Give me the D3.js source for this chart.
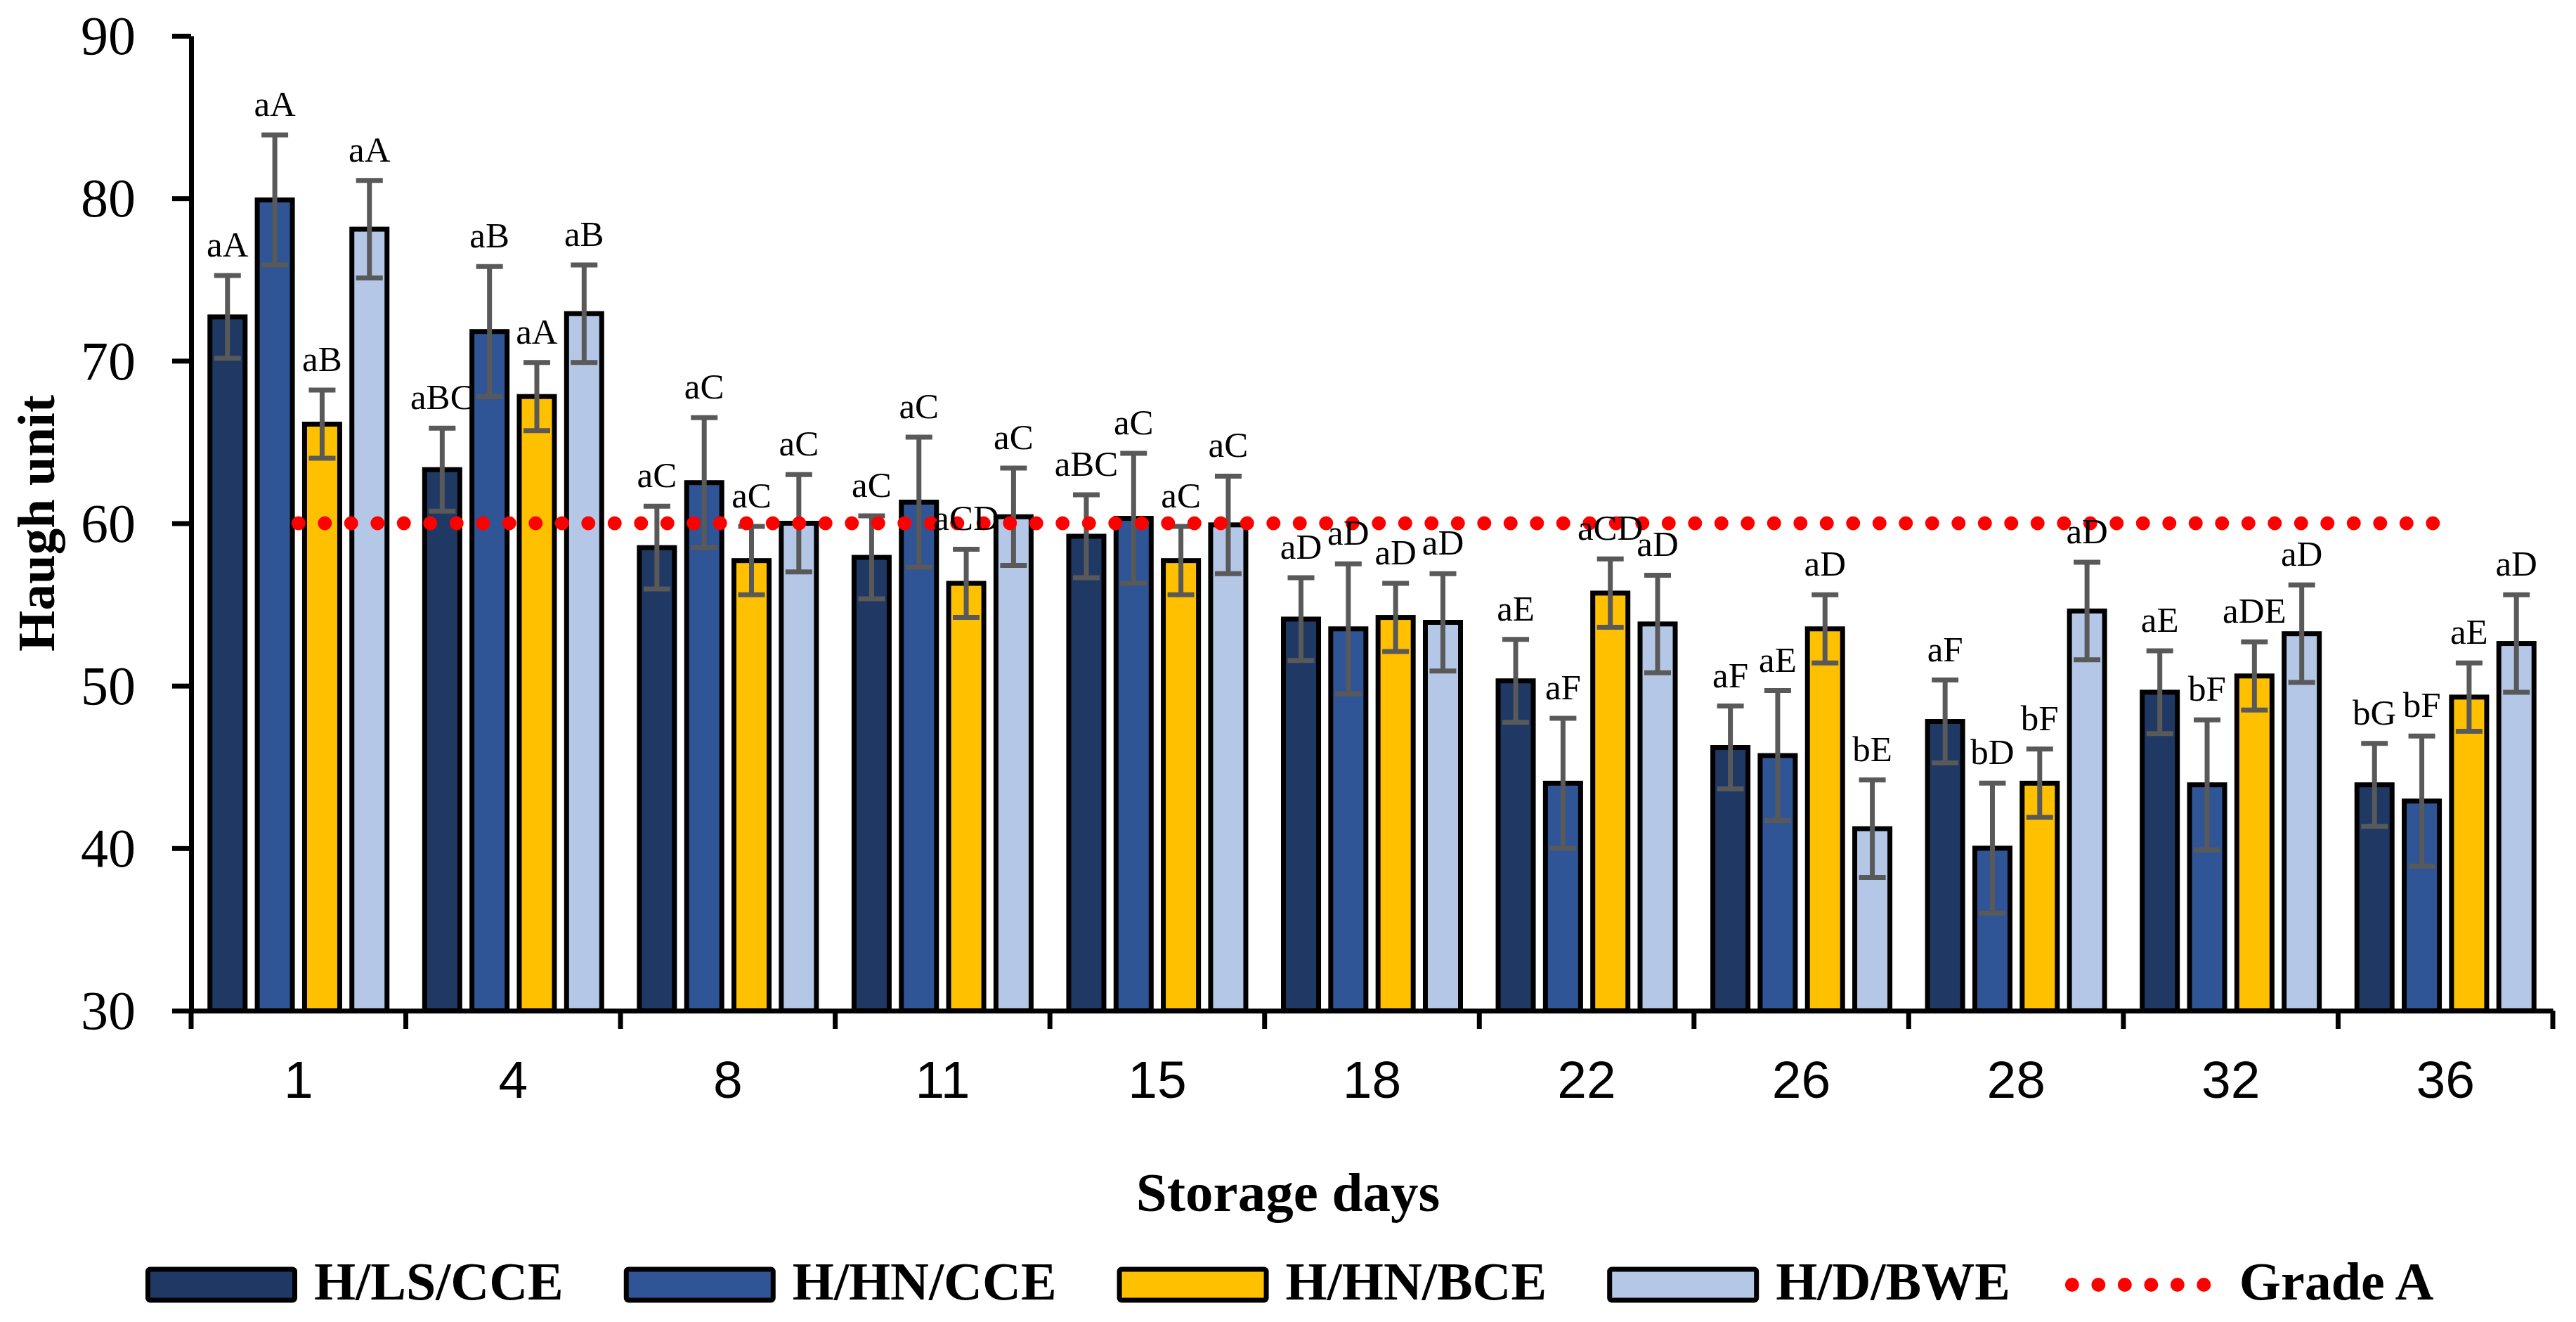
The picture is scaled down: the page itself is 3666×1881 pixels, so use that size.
<!DOCTYPE html>
<html><head><meta charset="utf-8">
<script src="https://cdn.jsdelivr.net/npm/d3@7"></script>
<style>html,body{margin:0;padding:0;background:#fff;} svg{display:block;}</style>
</head><body>
<svg id="chart" width="3666" height="1881"></svg>
<script>
// ---- data ----
const days = ["1","4","8","11","15","18","22","26","28","32","36"];
const seriesNames = ["H/LS/CCE","H/HN/CCE","H/HN/BCE","H/D/BWE"];
const seriesColors = ["#203864","#2F5597","#FFC000","#B4C7E7"];
const hlsCce  = [72.7, 63.3, 58.5, 57.9, 59.2, 54.1, 50.3, 46.2, 47.8, 49.6, 43.9];
const hhnCce  = [79.9, 71.8, 62.5, 61.3, 60.3, 53.5, 44.0, 45.7, 40.0, 43.9, 42.9];
const hhnBce  = [66.1, 67.8, 57.7, 56.3, 57.7, 54.2, 55.7, 53.5, 44.0, 50.6, 49.3];
const hdBwe   = [78.1, 72.9, 60.0, 60.4, 59.9, 53.9, 53.8, 41.2, 54.6, 53.2, 52.6];
const errHlsCce = [2.55, 2.55, 2.55, 2.55, 2.55, 2.55, 2.55, 2.55, 2.55, 2.55, 2.55];
const errHhnCce = [4.0, 4.0, 4.0, 4.0, 4.0, 4.0, 4.0, 4.0, 4.0, 4.0, 4.0];
const errHhnBce = [2.1, 2.1, 2.1, 2.1, 2.1, 2.1, 2.1, 2.1, 2.1, 2.1, 2.1];
const errHdBwe  = [3.0, 3.0, 3.0, 3.0, 3.0, 3.0, 3.0, 3.0, 3.0, 3.0, 3.0];
const lblHlsCce = ["aA","aBC","aC","aC","aBC","aD","aE","aF","aF","aE","bG"];
const lblHhnCce = ["aA","aB","aC","aC","aC","aD","aF","aE","bD","bF","bF"];
const lblHhnBce = ["aB","aA","aC","aCD","aC","aD","aCD","aD","bF","aDE","aE"];
const lblHdBwe  = ["aA","aB","aC","aC","aC","aD","aD","bE","aD","aD","aD"];
const yTicks = [30, 40, 50, 60, 70, 80, 90];
const gradeA = 60;
const gradeLabel = "Grade A";
const xTitle = "Storage days";
const yTitle = "Haugh unit";

const values = [hlsCce, hhnCce, hhnBce, hdBwe];
const errs = [errHlsCce, errHhnCce, errHhnBce, errHdBwe];
const lbls = [lblHlsCce, lblHhnCce, lblHhnBce, lblHdBwe];

// ---- layout ----
const svg = d3.select("#chart");
const SERIF = "'Liberation Serif','Times New Roman',serif";
const SANS = "'Liberation Sans',Arial,sans-serif";
const pLeft = 272, pRight = 3633, pTop = 51, pBottom = 1438;

const x = d3.scaleBand().domain(days).range([pLeft, pRight]).padding(0);
const bw = x.bandwidth();
const innerW = 259;
const xi = d3.scaleBand().domain(seriesNames)
  .range([(bw - innerW) / 2, (bw + innerW) / 2]).paddingInner(0.153).paddingOuter(0);
const y = d3.scaleLinear().domain([30, 90]).range([pBottom, pTop]);

const rows = [];
days.forEach((d, i) => seriesNames.forEach((s, j) => {
  rows.push({day: d, s, j, v: values[j][i], e: errs[j][i], l: lbls[j][i]});
}));

// bars
const SW = 7;
svg.append("g").selectAll("rect").data(rows).join("rect")
  .attr("x", r => x(r.day) + xi(r.s) + SW / 2)
  .attr("width", xi.bandwidth() - SW)
  .attr("y", r => y(r.v))
  .attr("height", r => y(30) - y(r.v))
  .attr("fill", r => seriesColors[r.j])
  .attr("stroke", "#000").attr("stroke-width", SW);

// error bars
const eg = svg.append("g").attr("stroke", "#595959").attr("stroke-width", 7);
const cx = r => x(r.day) + xi(r.s) + xi.bandwidth() / 2;
eg.selectAll("line.v").data(rows).join("line").attr("class", "v")
  .attr("x1", cx).attr("x2", cx)
  .attr("y1", r => y(r.v + r.e)).attr("y2", r => y(r.v - r.e));
eg.selectAll("line.t").data(rows).join("line").attr("class", "t")
  .attr("x1", r => cx(r) - 19).attr("x2", r => cx(r) + 19)
  .attr("y1", r => y(r.v + r.e)).attr("y2", r => y(r.v + r.e));
eg.selectAll("line.b").data(rows).join("line").attr("class", "b")
  .attr("x1", r => cx(r) - 19).attr("x2", r => cx(r) + 19)
  .attr("y1", r => y(r.v - r.e)).attr("y2", r => y(r.v - r.e));

// grade A dotted line
svg.append("line")
  .attr("x1", x(days[0]) + bw / 2).attr("x2", x(days[days.length - 1]) + bw / 2)
  .attr("y1", y(gradeA)).attr("y2", y(gradeA))
  .attr("stroke", "#FF0000").attr("stroke-width", 20)
  .attr("stroke-dasharray", "0 37.5").attr("stroke-linecap", "round");

// bar labels
svg.append("g").selectAll("text").data(rows).join("text")
  .attr("x", cx).attr("y", r => y(r.v + r.e) - 27)
  .attr("text-anchor", "middle")
  .style("font-family", SERIF).style("font-size", "51px").attr("fill", "#000")
  .text(r => r.l);

// y axis
const ya = svg.append("g").attr("transform", `translate(${pLeft},0)`)
  .call(d3.axisLeft(y).tickValues(yTicks).tickSize(27).tickSizeOuter(0).tickPadding(52).tickFormat(d3.format("d")));
ya.select(".domain").attr("stroke", "#000").attr("stroke-width", 7);
ya.selectAll(".tick line").attr("stroke", "#000").attr("stroke-width", 7);
ya.selectAll(".tick text").style("font-family", SERIF).style("font-size", "78px").attr("fill", "#000").attr("dy", "0.33em");

// x axis
const xa = svg.append("g").attr("transform", `translate(0,${pBottom})`)
  .call(d3.axisBottom(x).tickSize(0).tickSizeOuter(0).tickPadding(0));
xa.select(".domain").attr("stroke", "#000").attr("stroke-width", 7);
xa.selectAll(".tick text").style("font-family", SANS).style("font-size", "75px").attr("fill", "#000")
  .attr("y", 124).attr("dy", 0);
const bounds = days.map(d => x(d)).concat([x.range()[1]]);
xa.selectAll("line.bound").data(bounds).join("line").attr("class", "bound")
  .attr("x1", d => d).attr("x2", d => d).attr("y1", 0).attr("y2", 26)
  .attr("stroke", "#000").attr("stroke-width", 7);

// titles
svg.append("text").attr("x", 1833).attr("y", 1723).attr("text-anchor", "middle")
  .style("font-family", SERIF).style("font-size", "79px").style("font-weight", "bold").text(xTitle);
svg.append("text").attr("transform", `translate(77,${(pTop + pBottom) / 2}) rotate(-90)`)
  .attr("text-anchor", "middle")
  .style("font-family", SERIF).style("font-size", "75px").style("font-weight", "bold").text(yTitle);

// legend
const lg = svg.append("g");
let lx = 207;
const ly = 1828;
seriesNames.forEach((s, j) => {
  lg.append("rect").attr("x", lx + 3.5).attr("y", ly - 22).attr("width", 209).attr("height", 44)
    .attr("rx", 3)
    .attr("fill", seriesColors[j]).attr("stroke", "#000").attr("stroke-width", 7);
  const t = lg.append("text").attr("x", lx + 240).attr("y", ly + 21)
    .style("font-family", SERIF).style("font-size", "76px").style("font-weight", "bold").text(s);
  lx = lx + 240 + t.node().getComputedTextLength() + 86;
});
lg.append("line").attr("x1", lx + 2).attr("x2", lx + 190).attr("y1", ly).attr("y2", ly)
  .attr("stroke", "#FF0000").attr("stroke-width", 20)
  .attr("stroke-dasharray", "0 37.5").attr("stroke-linecap", "round");
lg.append("text").attr("x", lx + 240).attr("y", ly + 21)
  .style("font-family", SERIF).style("font-size", "76px").style("font-weight", "bold").text(gradeLabel);
</script>
</body></html>
